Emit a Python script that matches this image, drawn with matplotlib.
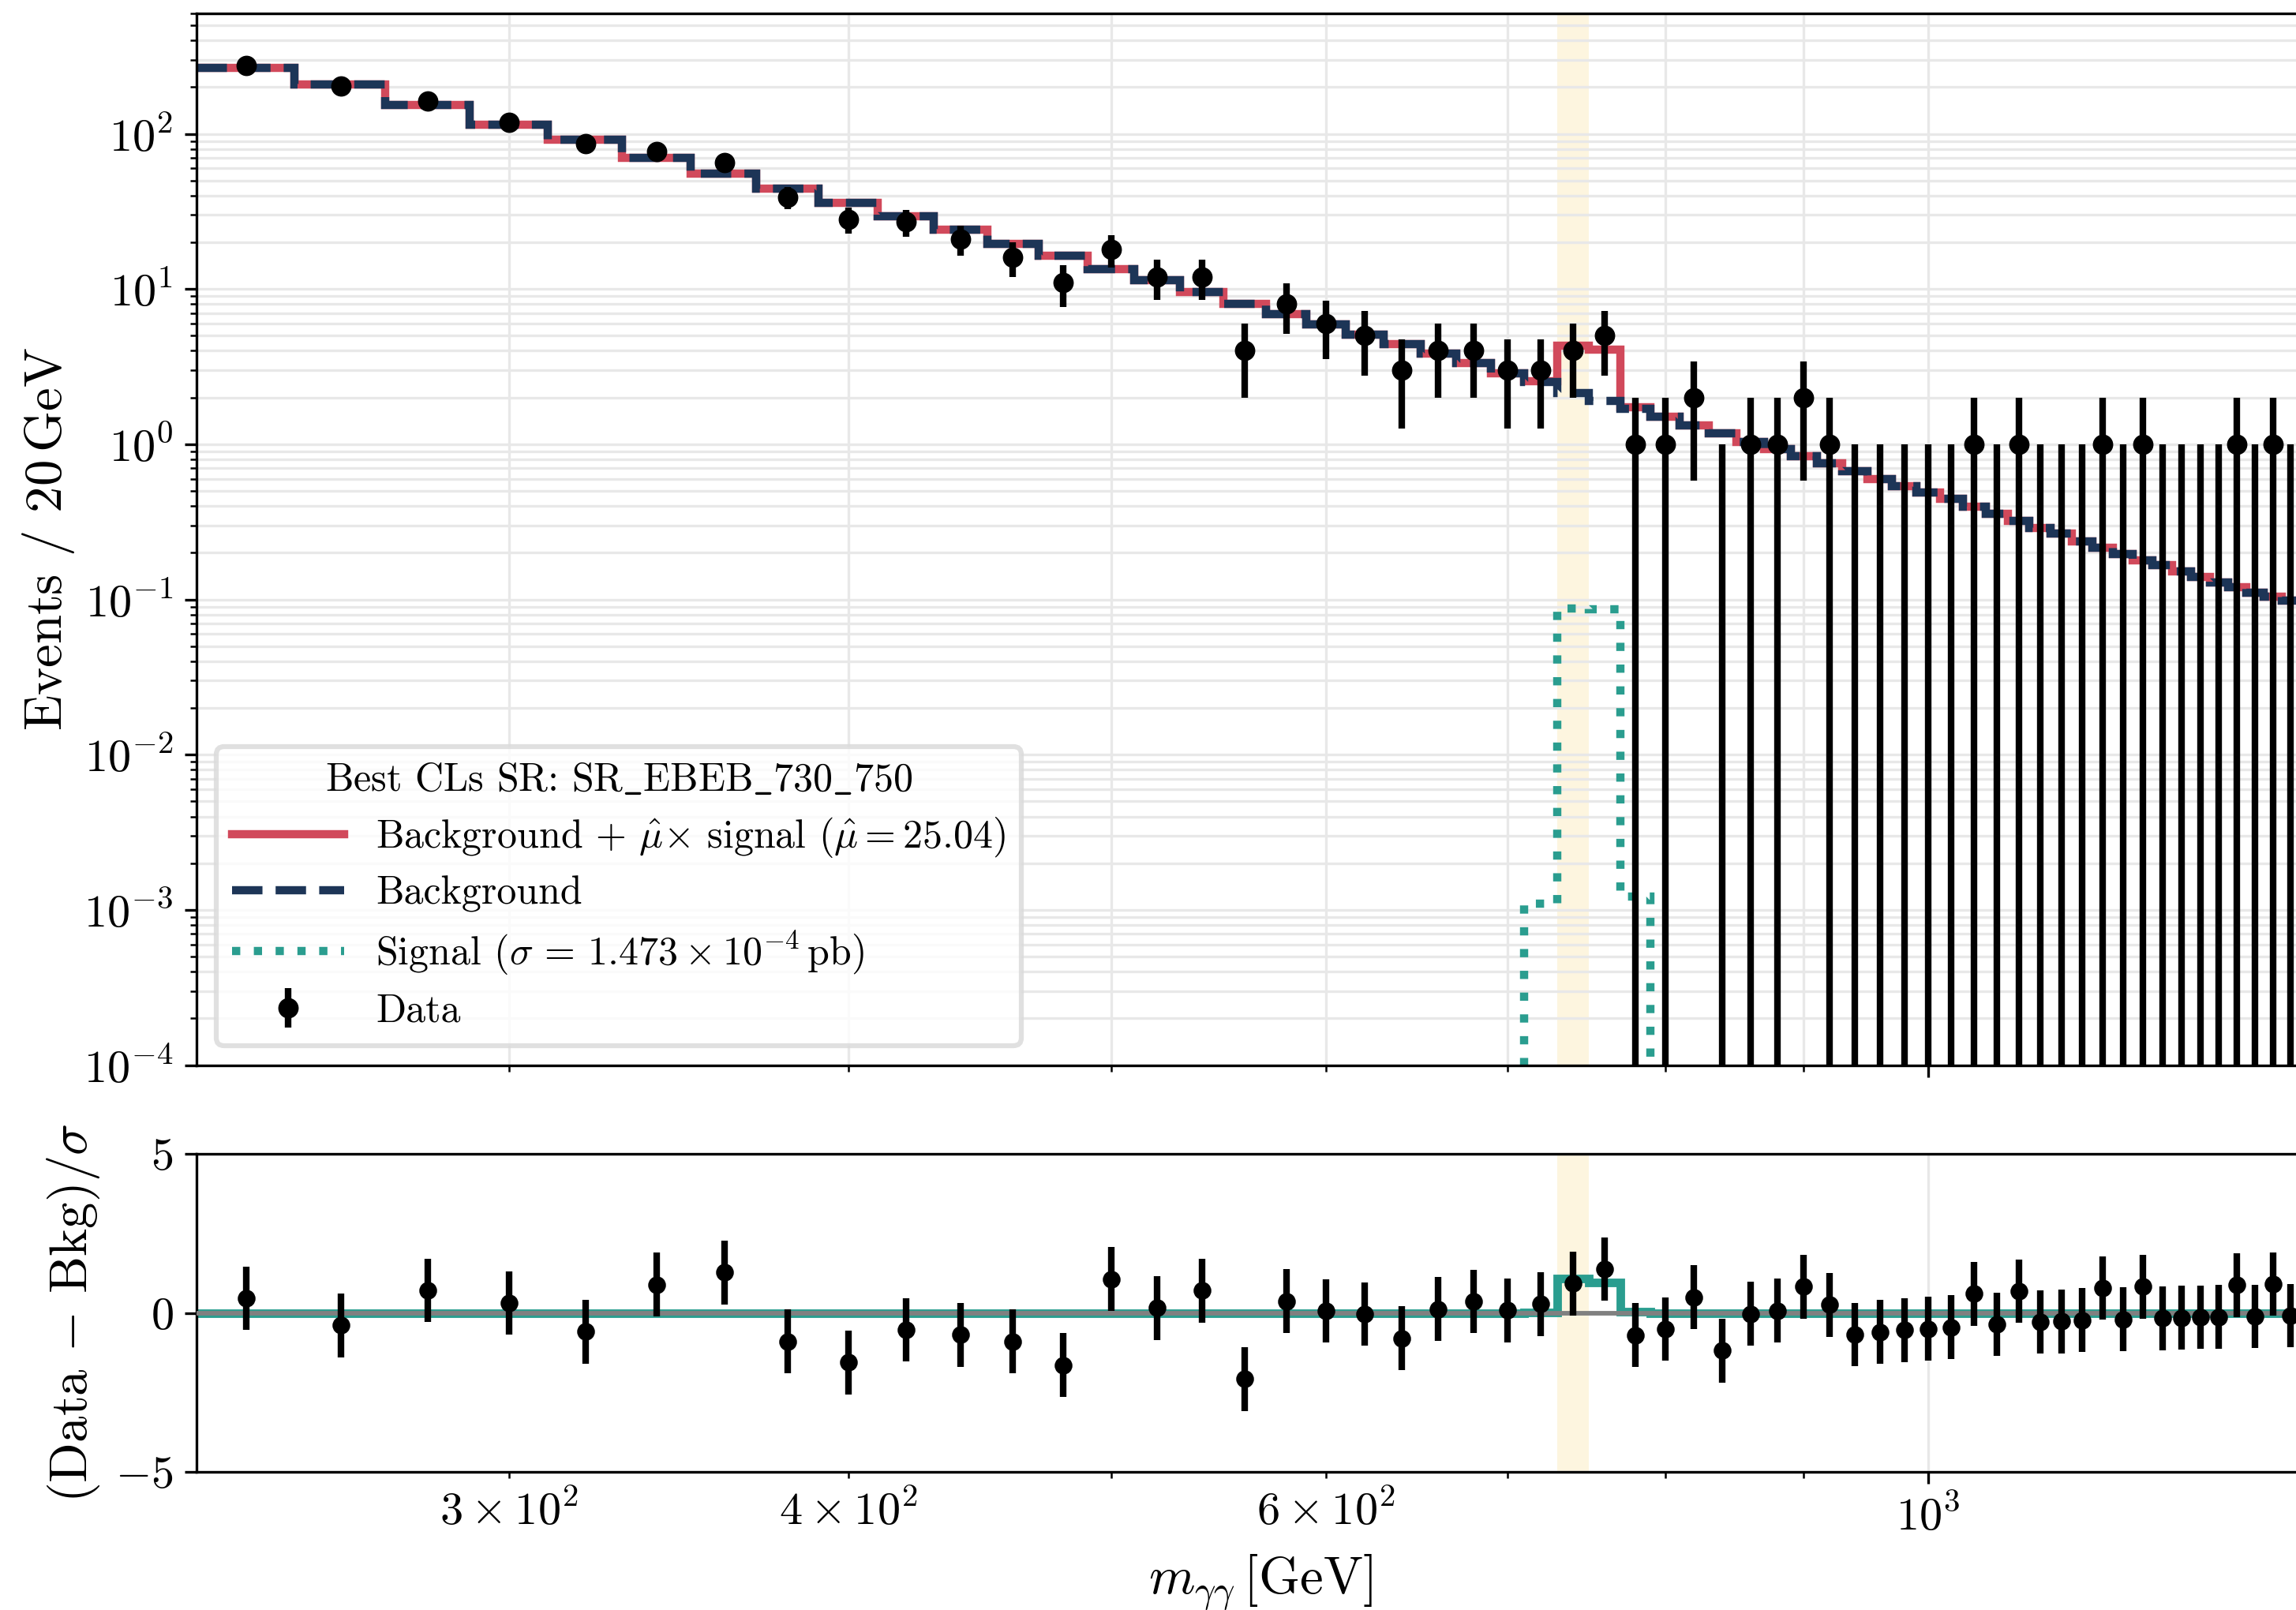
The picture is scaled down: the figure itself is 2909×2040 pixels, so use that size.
import numpy as np
import matplotlib
matplotlib.use("Agg")
import matplotlib.pyplot as plt

plt.rcParams['font.family'] = ['cmr10', 'DejaVu Serif']
plt.rcParams['mathtext.fontset'] = 'cm'
plt.rcParams['axes.formatter.use_mathtext'] = True
plt.rcParams['axes.unicode_minus'] = False
plt.rcParams['xtick.labelsize'] = 14
plt.rcParams['ytick.labelsize'] = 14

# ---------------- data ----------------
bin_edges = np.arange(230, 1371, 20)          # 20 GeV bins
bin_centers = 0.5 * (bin_edges[:-1] + bin_edges[1:])

data_counts = [274, 202, 162, 119, 86, 77, 65, 39, 28, 27,
               21, 16, 11, 18, 12, 12, 4, 8, 6, 5,
               3, 4, 4, 3, 3, 4, 5, 1, 1, 2,
               0, 1, 1, 2, 1, 0, 0, 0, 0, 0,
               1, 0, 1, 0, 0, 0, 1, 0, 1, 0,
               0, 0, 0, 1, 0, 1, 0]

background = [266.0, 207.0, 153.0, 115.0, 91.5, 70.0, 55.2, 44.5, 36.0, 29.6,
              24.1, 19.5, 16.3, 13.4, 11.4, 9.55, 8.04, 6.9, 5.9, 5.1,
              4.42, 3.85, 3.35, 2.86, 2.51, 2.15, 1.91, 1.70, 1.50, 1.32,
              1.18, 1.03, 0.93, 0.84, 0.753, 0.67, 0.60, 0.538, 0.49, 0.443,
              0.398, 0.358, 0.322, 0.29, 0.265, 0.236, 0.216, 0.197, 0.179, 0.166,
              0.152, 0.140, 0.129, 0.120, 0.111, 0.104, 0.098]

signal = [0.0] * 24 + [0.0011, 0.087, 0.086, 0.00122] + [0.0] * 29

pull = [0.46, -0.39, 0.71, 0.31, -0.59, 0.89, 1.27, -0.90, -1.56, -0.53,
        -0.69, -0.90, -1.64, 1.06, 0.15, 0.70, -2.08, 0.37, 0.06, -0.04,
        -0.80, 0.12, 0.36, 0.08, 0.28, 0.92, 1.38, -0.70, -0.51, 0.49,
        -1.19, -0.03, 0.07, 0.82, 0.25, -0.68, -0.60, -0.54, -0.50, -0.45,
        0.60, -0.36, 0.68, -0.29, -0.27, -0.23, 0.78, -0.20, 0.82, -0.17,
        -0.15, -0.14, -0.13, 0.87, -0.11, 0.91, -0.09]

mu_hat = 25.04
sr_name = "SR_EBEB_730_750"
sr_window = (730, 750)

data_counts = np.array(data_counts, dtype=float)
background = np.array(background)
signal = np.array(signal)
pull = np.array(pull)
splusb = background + mu_hat * signal
data_err = np.sqrt(np.maximum(data_counts, 1.0))
pull_sig = (splusb - background) / data_err

# ---------------- style ----------------
c_red = '#d1495b'
c_navy = '#1d3557'
c_teal = '#2a9d8f'
c_band = '#fdf5df'
lw = 2.5

W, H = 2909, 2040
fig = plt.figure(figsize=(W / 300, H / 300), dpi=300)
left = 248.7 / W
width = (2945 - 248.7) / W
ax1 = fig.add_axes([left, 1 - 1349.6 / H, width, (1349.6 - 16.5) / H])
ax2 = fig.add_axes([left, 1 - 1865 / H, width, (1865 - 1462) / H], sharex=ax1)

ax1.set_xscale('log')
ax1.set_yscale('log')
ax1.set_xlim(230, 1400)
ax1.set_ylim(1e-4, 600)

for ax in (ax1, ax2):
    ax.axvspan(*sr_window, color=c_band, lw=0, zorder=0)

ax1.grid(which='both', color='0.91', lw=0.8)
ax2.grid(which='major', color='0.91', lw=0.8)
ax1.set_axisbelow(True)
ax2.set_axisbelow(True)

ax1.stairs(splusb, bin_edges, baseline=None, color=c_red, lw=lw,
           label=r'Background + $\hat{\mu}{\times}$ signal ($\hat{\mu} = %.2f$)' % mu_hat)
ax1.stairs(background, bin_edges, baseline=None, color=c_navy, lw=lw, ls='--',
           label='Background')
ax1.stairs(signal, bin_edges, baseline=None, color=c_teal, lw=lw, ls=':',
           label=r'Signal ($\sigma\,=\,1.473 \times 10^{-4}\,\mathrm{pb}$)')
ax1.errorbar(bin_centers, data_counts, yerr=data_err, fmt='o', color='k',
             ms=5.2, elinewidth=2, capsize=0, label='Data', zorder=5)

title = "Best CLs SR: " + sr_name.replace("_", r"$\_$")
leg = ax1.legend(loc='lower left', title=title, fontsize=12, title_fontsize=12,
                 handlelength=2.85, labelspacing=0.42, framealpha=0.8,
                 edgecolor='0.85')
leg.get_frame().set_linewidth(1.5)

ax1.set_ylabel(r'Events / 20$\,$GeV', fontsize=16, labelpad=2)
ax1.tick_params(which='both', labelbottom=False)

# pull panel
ax2.stairs(pull_sig, bin_edges, baseline=None, color=c_teal, lw=2.6, zorder=2)
ax2.axhline(0, color='gray', lw=1.4, zorder=3)
ax2.errorbar(bin_centers, pull, yerr=1.0, fmt='o', color='k', ms=4.4,
             elinewidth=2, capsize=0, zorder=5)
ax2.set_ylim(-5, 5)
ax2.set_yticks([-5, 0, 5])
ax2.set_xlabel(r'$m_{\gamma\gamma}\,$[GeV]', fontsize=16)
ax2.set_ylabel(r'(Data $-$ Bkg)$/\sigma$', fontsize=16)

fig.savefig('out.png', dpi=300)
